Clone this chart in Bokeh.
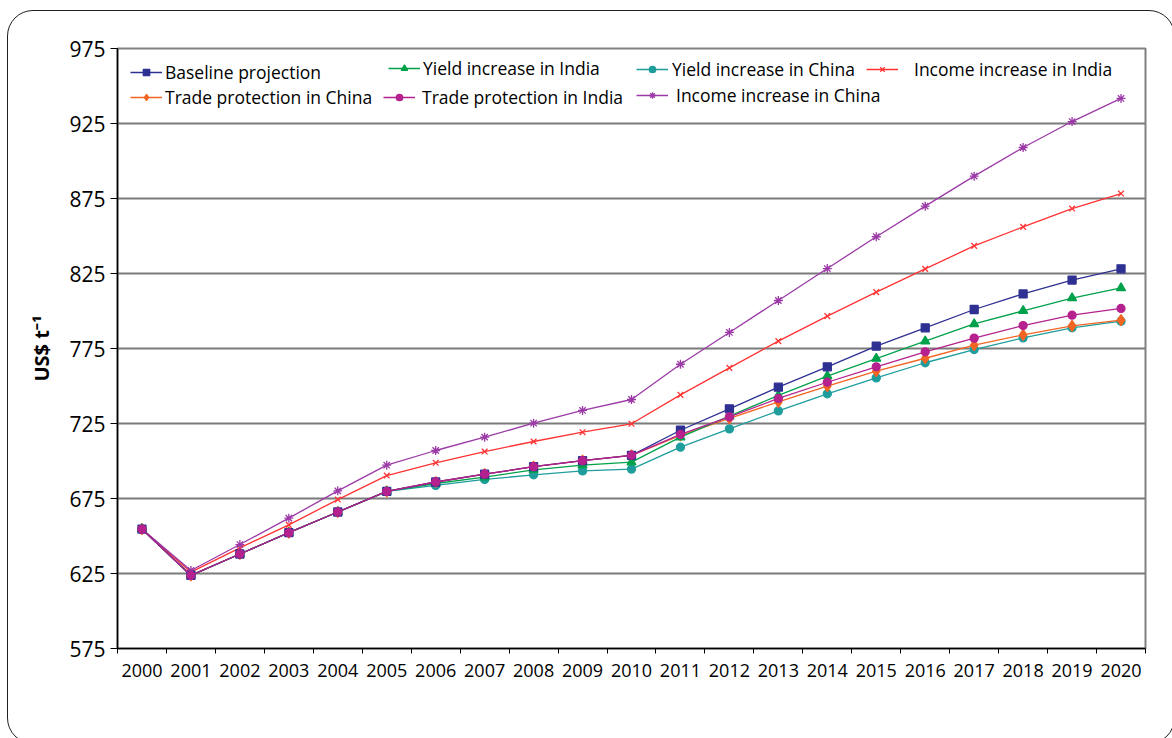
from bokeh.plotting import figure
from bokeh.models import Legend, LegendItem, FixedTicker, Range1d, InlineStyleSheet
from bokeh.embed import file_html
from bokeh.resources import INLINE

years = list(range(2000, 2021))
year_labels = [str(y) for y in years]

baseline = [654.6, 623.7, 638.0, 652.2, 666.0, 679.7, 686.0, 691.2, 696.2, 700.2, 703.8,
            720.5, 734.8, 749.2, 762.8, 776.6, 788.8, 801.0, 811.4, 820.6, 828.1]
trade_china = [654.6, 623.7, 638.0, 652.2, 666.0, 679.7, 686.0, 691.2, 696.2, 700.2, 703.8,
               717.0, 728.4, 739.4, 749.9, 759.9, 768.5, 777.2, 784.1, 790.1, 793.9]
yield_india = [654.6, 623.7, 638.0, 652.2, 666.0, 679.7, 685.0, 689.2, 694.1, 697.2, 699.2,
               715.9, 729.9, 743.7, 756.6, 768.3, 779.9, 791.4, 800.1, 808.6, 815.4]
trade_india = [654.6, 623.7, 638.0, 652.2, 666.0, 679.7, 686.0, 691.2, 696.2, 700.2, 703.8,
               717.7, 729.4, 741.7, 752.5, 762.8, 772.8, 781.9, 790.3, 797.2, 801.7]
yield_china = [654.6, 623.7, 638.0, 652.2, 666.0, 679.7, 683.7, 687.7, 690.8, 693.4, 694.6,
               709.2, 721.4, 733.4, 744.8, 755.4, 765.5, 774.3, 782.1, 788.8, 793.2]
income_india = [654.6, 625.9, 642.1, 657.4, 674.3, 690.3, 698.8, 706.3, 713.0, 719.2, 724.8,
                744.1, 762.1, 779.9, 796.6, 812.6, 828.1, 843.4, 856.1, 868.3, 878.3]
income_china = [654.6, 627.0, 644.3, 661.9, 680.1, 697.2, 707.0, 715.9, 725.2, 733.7, 741.0,
                764.5, 785.7, 807.0, 828.3, 849.5, 869.9, 889.9, 909.0, 926.3, 941.7]

y_ticks = [575, 625, 675, 725, 775, 825, 875, 925, 975]

FONT = "Open Sans"

# rounded outer frame drawn with CSS (pseudo-element on the figure's host element)
outer_frame = InlineStyleSheet(css="""
:host { position: relative; overflow: hidden; }
:host::after {
  content: "";
  position: absolute;
  left: 7px; top: 10px;
  width: 1166px; height: 732px;
  border: 1.5px solid #231f20;
  border-radius: 26px;
  pointer-events: none;
  z-index: 10;
}
""")

p = figure(width=1172, height=738, output_backend="svg", toolbar_location=None,
           x_range=Range1d(1999.5, 2020.5), y_range=Range1d(575, 975),
           min_border_left=117, min_border_top=48, min_border_right=27, min_border_bottom=90,
           stylesheets=[outer_frame])

p.outline_line_color = "#808080"
p.outline_line_width = 2
p.xgrid.grid_line_color = None
p.ygrid.ticker = FixedTicker(ticks=y_ticks)
p.ygrid.grid_line_color = "#7a7a7a"
p.ygrid.grid_line_width = 2

# x axis: labels centred on categories, tick marks between them
xax = p.xaxis[0]
xax.ticker = FixedTicker(ticks=years, minor_ticks=[y + 0.5 for y in range(1999, 2021)])
xax.major_label_overrides = {y: s for y, s in zip(years, year_labels)}
xax.major_tick_line_color = None
xax.minor_tick_line_color = "black"
xax.minor_tick_in = 0
xax.minor_tick_out = 5
xax.axis_line_color = "black"
xax.axis_line_width = 1.5
xax.major_label_standoff = 9
xax.major_label_text_font = FONT
xax.major_label_text_font_size = "18px"
xax.major_label_text_color = "black"

yax = p.yaxis[0]
yax.ticker = FixedTicker(ticks=y_ticks)
yax.minor_tick_line_color = None
yax.major_tick_in = 0
yax.major_tick_out = 7
yax.major_tick_line_color = "black"
yax.axis_line_color = "black"
yax.axis_line_width = 1.5
yax.major_label_standoff = 5
yax.major_label_text_font = FONT
yax.major_label_text_font_size = "21px"
yax.major_label_text_color = "black"
yax.axis_label = "US$ t\u207b\u00b9"
yax.axis_label_text_font = FONT
yax.axis_label_text_font_style = "bold"
yax.axis_label_text_font_size = "20px"
yax.axis_label_text_color = "black"
yax.axis_label_standoff = 11

series = [
    ("Yield increase in China", yield_china, "#1f9d9d", "circle", 8),
    ("Trade protection in China", trade_china, "#f26522", "diamond", 11),
    ("Yield increase in India", yield_india, "#00a14b", "triangle", 9),
    ("Income increase in India", income_india, "#ff3333", "x", 8),
    ("Income increase in China", income_china, "#9b3aa6", "asterisk", 9),
    ("Baseline projection", baseline, "#2e3192", "square", 8),
    ("Trade protection in India", trade_india, "#b5218e", "circle", 8),
]

renderers = {}
for name, vals, color, marker, size in series:
    l = p.line(years, vals, line_color=color, line_width=1.3)
    s = p.scatter(years, vals, marker=marker, size=size, fill_color=color,
                  line_color=color, line_width=1.3)
    renderers[name] = [l, s]

# legend placement: (name, x offset from frame left, y centre from frame bottom, label standoff)
legend_spots = [
    ("Baseline projection", 13, 572, 3),
    ("Trade protection in China", 13, 547, 3),
    ("Yield increase in India", 271, 576, 3),
    ("Trade protection in India", 266, 547, 7),
    ("Yield increase in China", 519, 575, 4),
    ("Income increase in China", 519, 549, 8),
    ("Income increase in India", 749, 575, 16),
]
for name, lx, ly, stand in legend_spots:
    lg = Legend(items=[LegendItem(label=name, renderers=renderers[name])],
                location=(lx, ly - 8), orientation="horizontal",
                padding=0, margin=0, spacing=0,
                glyph_width=32, glyph_height=16, label_height=16,
                label_standoff=stand,
                label_text_font=FONT, label_text_font_size="17.5px",
                label_text_color="black",
                background_fill_alpha=0, border_line_color=None)
    p.add_layout(lg, "center")

open("out.html", "w").write(file_html(p, INLINE))
